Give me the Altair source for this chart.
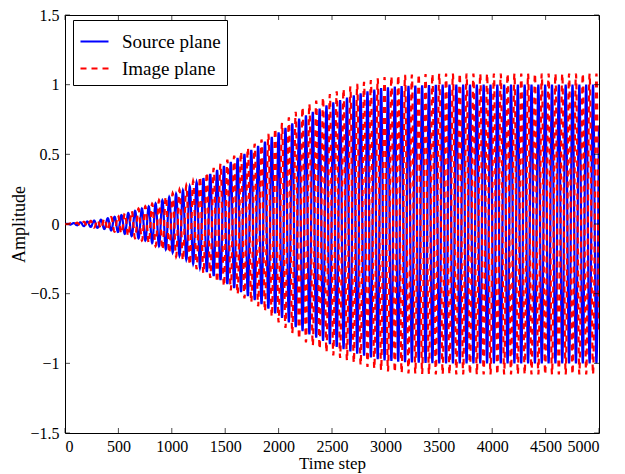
import altair as alt
import numpy as np
import pandas as pd

# Envelope of the oscillation (time step -> peak amplitude)
env_t      = [0, 100, 330, 515, 800, 1080, 1450, 1830, 2200, 2500, 2750, 2950, 3140, 3500, 5000]
env_source = [0, 0.008, 0.03, 0.06, 0.13, 0.23, 0.40, 0.57, 0.76, 0.87, 0.935, 0.975, 0.99, 1.0, 1.0]
env_image  = [0, 0.008, 0.032, 0.065, 0.14, 0.25, 0.43, 0.60, 0.83, 0.94, 1.01, 1.05, 1.07, 1.08, 1.08]
period = 64.0          # time steps per oscillation
image_phase = 0.5      # image-plane phase shift in periods

x_ticks = [0, 500, 1000, 1500, 2000, 2500, 3000, 3500, 4000, 4500, 5000]
y_ticks = [-1.5, -1, -0.5, 0, 0.5, 1, 1.5]
series = ["Source plane", "Image plane"]

t = np.arange(0, 5001, 2)
src = np.interp(t, env_t, env_source) * np.sin(2 * np.pi * t / period)
img = np.interp(t, env_t, env_image) * np.sin(2 * np.pi * (t / period + image_phase))
df = pd.concat([
    pd.DataFrame({"t": t, "v": src, "s": series[0]}),
    pd.DataFrame({"t": t, "v": img, "s": series[1]}),
])

FONT = "Liberation Serif"
xs = alt.Scale(domain=[0, 5000], nice=False)
ys = alt.Scale(domain=[-1.5, 1.5], nice=False)
color = alt.Color("s:N", scale=alt.Scale(domain=series, range=["#0000ff", "#ff0000"]),
                  legend=alt.Legend(title=None))
dash = alt.StrokeDash("s:N", scale=alt.Scale(domain=series, range=[[1, 0], [6, 5]]),
                      legend=alt.Legend(title=None))

xaxis = alt.Axis(values=x_ticks, format="d", ticks=False, domain=False, grid=False,
                 labelFont=FONT, labelFontSize=16, labelColor="black", labelPadding=5,
                 titleFont=FONT, titleFontSize=17, titleFontWeight="normal",
                 titleColor="black", titlePadding=1)
yaxis = alt.Axis(values=y_ticks, format="~g", ticks=False, domain=False, grid=False,
                 labelFont=FONT, labelFontSize=16, labelColor="black", labelPadding=6,
                 titleFont=FONT, titleFontSize=18, titleFontWeight="normal",
                 titleColor="black", titlePadding=1)

base = alt.Chart(df)
src_line = base.transform_filter(alt.datum.s == series[0]).mark_line(
    strokeWidth=2.2, clip=True).encode(
    x=alt.X("t:Q", scale=xs, axis=xaxis, title="Time step"),
    y=alt.Y("v:Q", scale=ys, axis=yaxis, title="Amplitude"),
    color=color, strokeDash=dash)
img_line = base.transform_filter(alt.datum.s == series[1]).mark_line(
    strokeWidth=2.2, clip=True).encode(
    x=alt.X("t:Q", scale=xs), y=alt.Y("v:Q", scale=ys),
    color=color, strokeDash=dash)

xt = pd.DataFrame({"t": x_ticks})
yt = pd.DataFrame({"v": y_ticks})
tb = alt.Chart(xt).mark_tick(orient="vertical", size=5, thickness=1, color="black",
                             yOffset=-2.5).encode(x=alt.X("t:Q", scale=xs), y=alt.datum(-1.5))
tt = alt.Chart(xt).mark_tick(orient="vertical", size=5, thickness=1, color="black",
                             yOffset=2.5).encode(x=alt.X("t:Q", scale=xs), y=alt.datum(1.5))
tl = alt.Chart(yt).mark_tick(orient="horizontal", size=5, thickness=1, color="black",
                             xOffset=2.5).encode(y=alt.Y("v:Q", scale=ys), x=alt.datum(0))
tr = alt.Chart(yt).mark_tick(orient="horizontal", size=5, thickness=1, color="black",
                             xOffset=-2.5).encode(y=alt.Y("v:Q", scale=ys), x=alt.datum(5000))

chart = alt.layer(src_line, img_line, tb, tt, tl, tr).properties(
    width=534, height=418,
    autosize=alt.AutoSizeParams(type="none"),
    padding={"left": 57, "top": 7, "right": 18, "bottom": 41},
    background="white",
).configure_view(stroke="black", strokeWidth=1).configure_axis(
    labelFont=FONT, titleFont=FONT,
).configure_legend(
    orient="none", legendX=8, legendY=5, strokeColor="black", fillColor="white",
    padding=6, cornerRadius=0, labelFont=FONT, labelFontSize=19, labelColor="black",
    symbolType="stroke", symbolStrokeWidth=2.2, symbolSize=784, labelOffset=12,
    rowPadding=1, labelLimit=300,
)

chart.save("out.html", embed_options={"renderer": "svg", "actions": False})
